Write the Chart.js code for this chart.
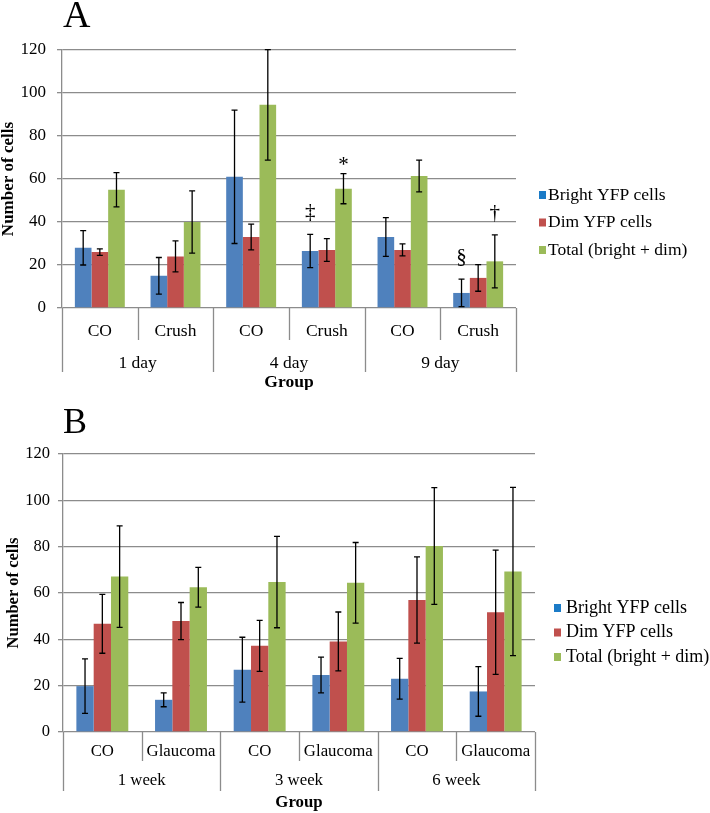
<!DOCTYPE html>
<html>
<head>
<meta charset="utf-8">
<script src="https://cdn.jsdelivr.net/npm/chart.js@4.4.0/dist/chart.umd.min.js"></script>
<style>
body{margin:0;background:#fff;}
#wrapA{position:absolute;left:0;top:0;}
#wrapB{position:absolute;left:0;top:390px;}
</style>
</head>
<body>
<div id="wrapA"><canvas id="chartA" width="710" height="390"></canvas></div>
<div id="wrapB"><canvas id="chartB" width="710" height="423"></canvas></div>
<script>

var seriesNames = ['Bright YFP cells', 'Dim YFP cells', 'Total (bright + dim)'];
var barColors = ['#4f81bd', '#c0504d', '#9bbb59'];
var keyColors = ['#1b7bc7', '#c0504d', '#9bbb59'];
var yMax = 120;
var yStep = 20;

// panel A - optic nerve crush
var catsA = ['CO', 'Crush', 'CO', 'Crush', 'CO', 'Crush'];
var groupsA = ['1 day', '4 day', '9 day'];
var brightA = [28, 15, 61, 26.5, 33, 7];
var brightErrA = [8, 8.5, 31, 7.7, 9, 6.4];
var dimA = [26, 24, 33, 27, 27, 14];
var dimErrA = [1.5, 7.2, 6, 5.3, 2.8, 6.2];
var totalA = [55, 40, 94.5, 55.5, 61.4, 21.7];
var totalErrA = [8, 14.5, 25.7, 7, 7.4, 12.3];

// significance marks on panel A
var markText = ['\u2021', '*', '\u00a7', '\u2020'];
var markSeries = [0, 2, 0, 2];
var markIndex = [3, 3, 5, 5];

// panel B - glaucoma
var catsB = ['CO', 'Glaucoma', 'CO', 'Glaucoma', 'CO', 'Glaucoma'];
var groupsB = ['1 week', '3 week', '6 week'];
var brightB = [19.8, 13.9, 26.9, 24.6, 23, 17.5];
var brightErrB = [11.8, 3, 14, 7.7, 8.8, 10.7];
var dimB = [46.7, 47.9, 37.2, 39.1, 57, 51.7];
var dimErrB = [12.7, 8, 11, 12.7, 18.6, 26.8];
var totalB = [67.1, 62.5, 64.7, 64.4, 80.3, 69.3];
var totalErrB = [21.9, 8.6, 19.7, 17.4, 25.2, 36.3];

var serif = "'Liberation Serif', 'Times New Roman', serif";
var gridGray = '#8c8c8c';

// error bars from dataset.err
var errorBars = {
  id: 'errorBars',
  afterDatasetsDraw: function(chart) {
    var ctx = chart.ctx, y = chart.scales.y;
    ctx.save();
    ctx.strokeStyle = '#000';
    ctx.lineWidth = 1.3;
    chart.data.datasets.forEach(function(ds, d) {
      chart.getDatasetMeta(d).data.forEach(function(bar, i) {
        var v = ds.data[i], e = ds.err[i];
        var top = y.getPixelForValue(v + e);
        var bot = y.getPixelForValue(Math.max(v - e, 0));
        ctx.beginPath();
        ctx.moveTo(bar.x, top); ctx.lineTo(bar.x, bot);
        ctx.moveTo(bar.x - 3, top); ctx.lineTo(bar.x + 3, top);
        ctx.moveTo(bar.x - 3, bot); ctx.lineTo(bar.x + 3, bot);
        ctx.stroke();
      });
    });
    ctx.restore();
  }
};

// symbols above the error bars
var sigMarks = {
  id: 'sigMarks',
  afterDatasetsDraw: function(chart, args, o) {
    if (!o.text) return;
    var ctx = chart.ctx, y = chart.scales.y;
    ctx.save();
    ctx.fillStyle = '#000';
    ctx.font = o.size + 'px ' + serif;
    ctx.textAlign = 'center';
    ctx.textBaseline = 'alphabetic';
    for (var k = 0; k < o.text.length; k++) {
      var ds = chart.data.datasets[o.series[k]];
      var bar = chart.getDatasetMeta(o.series[k]).data[o.index[k]];
      var i = o.index[k];
      var top = y.getPixelForValue(ds.data[i] + ds.err[i]);
      var gap = o.text[k] == '*' ? 3 : 16;
      ctx.fillText(o.text[k], bar.x, top - gap);
    }
    ctx.restore();
  }
};

// two level category axis + title + legend + panel letter
var extras = {
  id: 'extras',
  afterDraw: function(chart, args, o) {
    var ctx = chart.ctx, a = chart.chartArea, x = chart.scales.x;
    var n = chart.data.labels.length;
    var w = x.getPixelForValue(1) - x.getPixelForValue(0);
    ctx.save();
    ctx.strokeStyle = gridGray;
    ctx.lineWidth = 1.3;
    ctx.beginPath();
    for (var i = 0; i <= n; i++) {
      var bx = Math.round(x.getPixelForValue(i) - w / 2) + 0.5;
      var len = (i % 2 == 0) ? o.groupLen : o.sepLen;
      ctx.moveTo(bx, a.bottom);
      ctx.lineTo(bx, a.bottom + len);
    }
    ctx.stroke();

    ctx.fillStyle = '#000';
    ctx.textAlign = 'center';
    ctx.textBaseline = 'middle';
    ctx.font = o.size + 'px ' + serif;
    chart.data.labels.forEach(function(lab, i) {
      ctx.fillText(lab, x.getPixelForValue(i), a.bottom + o.catOff);
    });
    o.groups.forEach(function(g, j) {
      var gx = (x.getPixelForValue(2 * j) + x.getPixelForValue(2 * j + 1)) / 2;
      ctx.fillText(g, gx, a.bottom + o.groupOff);
    });
    ctx.font = 'bold ' + o.size + 'px ' + serif;
    ctx.fillText('Group', (a.left + a.right) / 2, a.bottom + o.titleOff);

    // legend
    ctx.textAlign = 'left';
    ctx.font = o.keySize + 'px ' + serif;
    for (var k = 0; k < seriesNames.length; k++) {
      var ly = o.keyY + k * o.keyGap;
      ctx.fillStyle = keyColors[k];
      ctx.fillRect(o.keyX, ly - 4, 7, 8);
      ctx.fillStyle = '#000';
      ctx.fillText(seriesNames[k], o.keyX + o.keyText, ly);
    }

    // panel letter
    ctx.textBaseline = 'alphabetic';
    ctx.font = o.letterSize + 'px ' + serif;
    ctx.fillText(o.letter, o.letterX, o.letterY);
    ctx.restore();
  }
};

function makeSets(b, be, d, de, t, te) {
  var vals = [b, d, t], errs = [be, de, te];
  return vals.map(function(v, k) {
    return {
      label: seriesNames[k],
      data: v,
      err: errs[k],
      backgroundColor: barColors[k],
      categoryPercentage: 0.66,
      barPercentage: 1.0
    };
  });
}

function yAxis(size, width, titlePad, titleLh, tickPad) {
  return {
    min: 0,
    max: yMax,
    ticks: { stepSize: yStep, color: '#000', padding: tickPad, font: { family: serif, size: size } },
    grid: { color: gridGray, lineWidth: 1.3, tickLength: 5 },
    border: { color: gridGray, width: 1.3 },
    title: {
      display: true,
      text: 'Number of cells',
      color: '#000',
      padding: { top: titlePad, bottom: 0 },
      font: { family: serif, size: size, weight: 'bold', lineHeight: titleLh }
    },
    afterFit: function(s) { s.width = width; }
  };
}

var chartA = new Chart(document.getElementById('chartA').getContext('2d'), {
  type: 'bar',
  data: { labels: catsA, datasets: makeSets(brightA, brightErrA, dimA, dimErrA, totalA, totalErrA) },
  options: {
    responsive: false,
    animation: false,
    layout: { padding: { top: 50, right: 194, bottom: 82, left: 0 } },
    scales: {
      x: { display: false },
      y: yAxis(17, 62, 0, 1, 11)
    },
    plugins: {
      legend: { display: false },
      tooltip: { enabled: false },
      sigMarks: { text: markText, series: markSeries, index: markIndex, size: 21 },
      extras: {
        groups: groupsA, size: 17.5, sepLen: 32, groupLen: 64,
        catOff: 23, groupOff: 55, titleOff: 74,
        keyX: 539, keyY: 195, keyGap: 27.5, keyText: 9, keySize: 17.5,
        letter: 'A', letterX: 63, letterY: 27, letterSize: 38
      }
    }
  },
  plugins: [errorBars, sigMarks, extras]
});

var chartB = new Chart(document.getElementById('chartB').getContext('2d'), {
  type: 'bar',
  data: { labels: catsB, datasets: makeSets(brightB, brightErrB, dimB, dimErrB, totalB, totalErrB) },
  options: {
    responsive: false,
    animation: false,
    layout: { padding: { top: 64, right: 175, bottom: 81, left: 0 } },
    scales: {
      x: { display: false },
      y: yAxis(16.5, 63, 4, 1.2, 8)
    },
    plugins: {
      legend: { display: false },
      tooltip: { enabled: false },
      sigMarks: {},
      extras: {
        groups: groupsB, size: 16.8, sepLen: 29, groupLen: 59,
        catOff: 20, groupOff: 49, titleOff: 71,
        keyX: 554, keyY: 218, keyGap: 24.5, keyText: 12, keySize: 18,
        letter: 'B', letterX: 63, letterY: 43, letterSize: 36
      }
    }
  },
  plugins: [errorBars, sigMarks, extras]
});
</script>
</body>
</html>
